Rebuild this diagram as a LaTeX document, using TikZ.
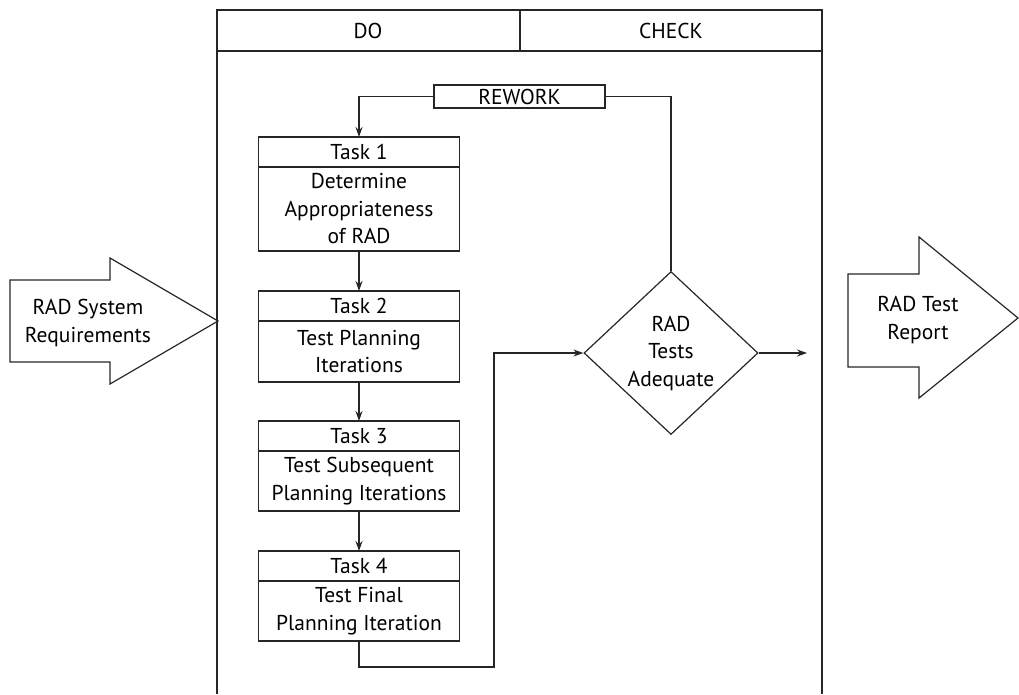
\documentclass[tikz,border=0pt]{standalone}
\usepackage{fontspec}
\setmainfont{PT Sans}
\usetikzlibrary{shapes.geometric,arrows.meta}
\tikzset{
  ln/.style={line width=1.2pt, draw=black!85},
  hdr/.style={ln, rectangle, minimum width=201pt, minimum height=30pt, inner sep=0pt, outer sep=0pt, anchor=north},
  bodybox/.style={ln, rectangle, minimum width=201pt, inner sep=0pt, outer sep=0pt, anchor=north, align=center},
  arr/.style={ln, -{Stealth[length=10pt,width=7pt]}},
  lbl/.style={align=center, inner sep=0pt},
}
\begin{document}
\begin{tikzpicture}[x=1pt,y=-1pt, font=\fontsize{21.5}{27.5}\selectfont]
\useasboundingbox (0,0) rectangle (1019,694);
% frame
\draw[ln] (217,694) -- (217,10) -- (822,10) -- (822,694);
\draw[ln] (217,51) -- (822,51);
\draw[ln] (520,10) -- (520,51);
\node[lbl] (do) at (368,31) {DO};
\node[lbl] (check) at (671,31) {CHECK};
% tasks
\node[hdr] (t1h) at (359,137) {Task 1};
\node[bodybox, minimum height=84pt] (t1b) at (t1h.south) {Determine\\Appropriateness\\of RAD};
\node[hdr] (t2h) at (359,291) {Task 2};
\node[bodybox, minimum height=61pt] (t2b) at (t2h.south) {Test Planning\\Iterations};
\node[hdr] (t3h) at (359,421) {Task 3};
\node[bodybox, minimum height=60pt] (t3b) at (t3h.south) {Test Subsequent\\Planning Iterations};
\node[hdr] (t4h) at (359,551) {Task 4};
\node[bodybox, minimum height=60pt] (t4b) at (t4h.south) {Test Final\\Planning Iteration};
\draw[arr] (t1b.south) -- (t2h.north);
\draw[arr] (t2b.south) -- (t3h.north);
\draw[arr] (t3b.south) -- (t4h.north);
% rework
\node[ln, rectangle, minimum width=171pt, minimum height=23pt, inner sep=0pt] (rw) at (519.5,96.5) {REWORK};
% diamond
\node[ln, diamond, minimum width=174pt, minimum height=163pt, inner sep=0pt, align=center] (dia) at (671,353) {RAD\\Tests\\Adequate};
\draw[arr] (rw.west) -| (t1h.north);
\draw[ln] (rw.east) -| (dia.north);
\coordinate (c1) at (494,667);
\draw[arr] (t4b.south) |- (c1) |- (dia.west);
\coordinate (outend) at (807,353);
\draw[arr] (dia.east) -- (outend);
% input arrow
\draw[ln] (10,280) -- (110,280) -- (110,258) -- (218,321) -- (110,384) -- (110,362) -- (10,362) -- cycle;
\node[lbl] (inp) at (88,323) {RAD System\\Requirements};
% output arrow
\draw[ln] (848,274) -- (919,274) -- (919,237) -- (1018,318) -- (919,398) -- (919,367) -- (848,367) -- cycle;
\node[lbl] (outp) at (918,320) {RAD Test\\Report};
\end{tikzpicture}
\end{document}
